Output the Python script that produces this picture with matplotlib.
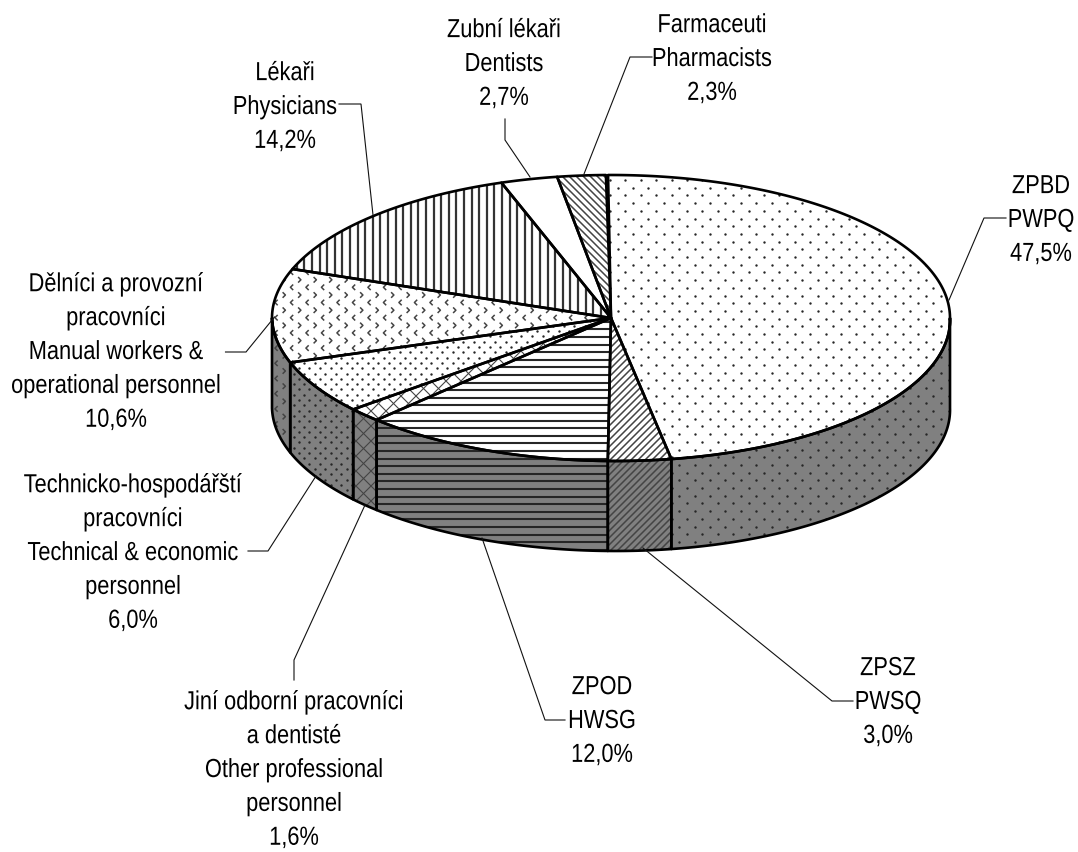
import matplotlib
matplotlib.use("Agg")
import matplotlib.pyplot as plt
import numpy as np
import matplotlib.patheffects as pe
from matplotlib.collections import LineCollection
from matplotlib.patches import Polygon
from matplotlib.path import Path
from matplotlib.transforms import Affine2D

plt.rcParams['font.family'] = ['Liberation Sans', 'DejaVu Sans']

values = [47.5, 3.0, 12.0, 1.6, 6.0, 10.6, 14.2, 2.7, 2.3]
names = [
	"ZPBD\nPWPQ",
	"ZPSZ\nPWSQ",
	"ZPOD\nHWSG",
	"Jiní odborní pracovníci\na dentisté\nOther professional\npersonnel",
	"Technicko-hospodářští\npracovníci\nTechnical & economic\npersonnel",
	"Dělníci a provozní\npracovníci\nManual workers &\noperational personnel",
	"Lékaři\nPhysicians",
	"Zubní lékaři\nDentists",
	"Farmaceuti\nPharmacists",
]
patterns = ["dots", "back", "horiz", "cross", "fine", "chev", "vert", "none", "fwd"]

# label centres, pixels
label_x = [1041, 888, 602, 294, 133, 116, 285, 504, 712]
label_y = [220, 702, 721, 770, 553, 352, 107, 64, 59]
leaders = [
	[(949, 300), (984, 218), (1006, 218)],
	[(643, 548), (832, 701), (853, 701)],
	[(482, 538), (545, 720), (565, 720)],
	[(365, 505), (294, 660), (294, 680)],
	[(316, 476), (268, 551), (248, 551)],
	[(274.5, 317), (246, 352), (225.5, 352)],
	[(373, 215), (361, 104), (339, 104)],
	[(530, 177), (505, 140), (505, 119)],
	[(584, 174), (630, 57), (652, 57)],
]

cx, cy = 611, 318
rx, ry = 339, 143
depth = 90
start = -0.5
front_shift = 4.5
side_grey = "#808080"
edge = 1.9
hatch_col = "#262626"


class Squeeze(pe.AbstractPathEffect):
	# the labels in the original are a narrow Arial, none is installed
	def __init__(self, anchor, px, factor):
		super().__init__()
		self.anchor = anchor
		self.px = px
		self.factor = factor

	def draw_path(self, renderer, gc, tpath, affine, rgbFace=None):
		squeeze = Affine2D().translate(-self.anchor, 0).scale(self.factor, 1).translate(self.px, 0)
		renderer.draw_path(gc, tpath, affine + squeeze, rgbFace)


def rim(deg, drop=0):
	t = np.radians(deg)
	c = np.cos(t)
	# the front of the disc sits a little to the right, perspective of the 3D pie
	x = cx + rx * np.sin(t) + front_shift * np.clip(-c, 0, None)
	return np.column_stack([x, cy - ry * c + drop])


def arc(a, b):
	n = max(int(abs(b - a) * 2), 2)
	return rim(np.linspace(a, b, n))


def grid(x0, y0, dx, dy, stagger=True):
	pts = []
	for k in range(-30, 60):
		y = y0 + k * dy
		for j in range(-60, 60):
			shift = (k % 2) / 2 if stagger else 0
			pts.append((x0 + (j + shift) * dx, y))
	return np.array(pts)


def add_hatch(ax, clip, kind):
	if kind == "none":
		return
	arts = []
	if kind == "horiz":
		segs = [[(0, y), (1078, y)] for y in np.arange(329.3 - 7.6 * 40, 852, 7.6)]
		arts.append(LineCollection(segs, colors=hatch_col, linewidths=1.5))
	elif kind == "vert":
		segs = [[(x, 0), (x, 852)] for x in np.arange(464 - 7.6 * 60, 1078, 7.6)]
		arts.append(LineCollection(segs, colors="#333333", linewidths=1.6))
	elif kind in ("back", "fwd", "cross"):
		step = 15.0 if kind == "cross" else 7.0
		lw = 0.8 if kind == "cross" else 1.1
		segs = []
		for c in np.arange(-1000, 2000, step):
			if kind in ("back", "cross"):
				segs.append([(c, 852), (c + 852, 0)])
			if kind in ("fwd", "cross"):
				segs.append([(c, 0), (c + 852, 852)])
		arts.append(LineCollection(segs, colors="#444444", linewidths=lw))
	elif kind == "dots":
		pts = grid(710, 403.3, 15.4, 7.7)
		arts.append(ax.scatter(pts[:, 0], pts[:, 1], s=3, c=hatch_col, linewidths=0, zorder=3))
	elif kind == "fine":
		pts = grid(320, 400, 10.6, 5.3)
		arts.append(ax.scatter(pts[:, 0], pts[:, 1], s=3, c=hatch_col, linewidths=0, zorder=3))
	elif kind == "chev":
		left = Path([(0.5, -1), (-0.5, 0), (0.5, 1)], closed=False)
		right = Path([(-0.5, -1), (0.5, 0), (-0.5, 1)], closed=False)
		for x0, y0, mk in [(307.3, 287.3, left), (315, 295, right)]:
			pts = grid(x0, y0, 15.5, 15.2, stagger=False)
			arts.append(ax.scatter(pts[:, 0], pts[:, 1], s=16, marker=mk, facecolors="none",
				edgecolors="#444444", linewidths=1.1, zorder=3))
	for art in arts:
		if isinstance(art, LineCollection):
			ax.add_collection(art)
			art.set_zorder(3)
		art.set_clip_path(clip)


fig = plt.figure(figsize=(10.78, 8.52), dpi=100)
ax = fig.add_axes([0, 0, 1, 1])
ax.set_xlim(0, 1078)
ax.set_ylim(852, 0)
ax.axis("off")

bounds = start + np.cumsum([0] + values) * 3.6

# side wall, only the front half of the disc shows
for i, kind in enumerate(patterns):
	a = max(bounds[i], 90)
	b = min(bounds[i + 1], 270)
	if b <= a:
		continue
	top = arc(a, b)
	bottom = top[::-1] + [0, depth]
	wall = Polygon(np.vstack([top, bottom]), closed=True, fc=side_grey, ec="none", zorder=2)
	ax.add_patch(wall)
	add_hatch(ax, wall, kind)
	ax.add_patch(Polygon(np.vstack([top, bottom]), closed=True, fc="none", ec="black", lw=edge,
		joinstyle="round", zorder=4))

# top face
for i, kind in enumerate(patterns):
	pts = np.vstack([[(cx, cy)], arc(bounds[i], bounds[i + 1])])
	wedge = Polygon(pts, closed=True, fc="white", ec="none", zorder=2)
	ax.add_patch(wedge)
	add_hatch(ax, wedge, kind)
	ax.add_patch(Polygon(pts, closed=True, fc="none", ec="black", lw=edge, joinstyle="round", zorder=4))

for line in leaders:
	xs, ys = zip(*line)
	ax.plot(xs, ys, color="#111111", lw=0.8, zorder=5, solid_joinstyle="miter")

for name, val, x, y in zip(names, values, label_x, label_y):
	text = name + "\n" + f"{val:.1f}%".replace(".", ",")
	# layout box is wider than the squeezed glyphs, keep it on the canvas
	anchor = min(max(x, 135), 1035)
	ax.text(anchor, y, text, ha="center", va="center", ma="center", fontsize=18.8, linespacing=1.52,
		color="black", zorder=6, path_effects=[Squeeze(anchor, x, 0.835)])

fig.savefig("out.png", dpi=100)
